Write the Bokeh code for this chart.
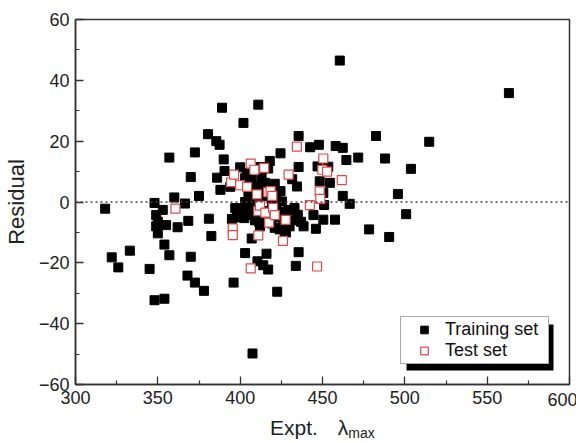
from bokeh.plotting import figure
from bokeh.layouts import column
from bokeh.models import (Range1d, Span, Legend, LegendItem, FixedTicker, Div,
                          LinearAxis)
from bokeh.embed import file_html
from bokeh.resources import INLINE

# Residuals of predicted vs. experimental absorption maxima
train_x = [318, 322, 326, 333, 345, 348, 354, 348, 349, 350, 349, 350, 353, 355, 354,
           357, 357, 360, 362, 366.5, 368.5, 370, 368, 370, 372.5, 372.5, 375, 378,
           380.5, 381, 382.5, 385.5, 387.5, 386, 388, 389, 390, 390.5, 394, 396, 397,
           395, 400, 402, 403, 404, 403, 402.5, 405, 405.5, 406, 407, 407.5, 407, 411,
           410.5, 411.5, 412, 412.6, 414, 415, 416, 417, 418, 418.7, 419.3, 420.5, 421,
           422.5, 424.5, 424.5, 425.4, 426.7, 427.8, 429.4, 431.6, 433.8, 434.5, 435.5,
           435.5, 435.5, 435, 437, 438.5, 442.5, 444.5, 446, 447.8, 448.3, 447, 450.5,
           451, 450.5, 453.5, 454.5, 457.6, 458, 460.5, 462.3, 462.3, 464.5, 466.5,
           471.7, 478.3, 482.5, 488, 490.5, 495.8, 500.8, 503.7, 514.8, 563.2,
           400, 401, 403, 404, 406, 408, 409, 410, 413, 414, 416, 417, 419, 420, 422,
           423, 424, 426, 428, 430, 432, 433, 409, 413, 417, 421, 398, 410, 415, 427,
           412, 422]
train_y = [-2.2, -18.2, -21.5, -16, -22, -32.3, -31.8, -0.3, -4.3, -6.5, -8, -10.3, -2.6,
           -7.6, -14, -17.5, 14.6, 1.5, -8.3, -0.5, -6.2, 8.2, -24.2, -18, -26.5, 16.3,
           2, -29.2, 22.3, -5.5, -11.2, 20, 18.8, 8, 4, 31, 14, 10.2, 5, -26.5, -2,
           -5.6, 11.4, 26, -16.8, 9.5, 7.8, -5.3, 2.3, -1, -4.3, -12, -49.8, 7.2, 32,
           -19.5, -6.5, 1.2, 11.5, -20.8, 6.3, -17, -22.2, 13.5, 4.5, -1, -4.3, -8.5,
           -29.5, 16, 3.6, 0.2, -3.2, -10, -2.6, 7.5, -21, 5.1, 21.7, 11.5, -16.5,
           -4.2, -6.5, -8, 18, -4.3, -8.8, 18.8, 6.8, 11.7, 3, -1, -5.8, 11.6, 6.3,
           -5.8, 18.4, 46.5, 17.8, 2, 13.8, -0.6, 14.6, -9, 21.7, 14.3, -11.5, 2.6, -4,
           10.9, 19.8, 35.8,
           -3, -5, 0, -2, 3, -2, -6, 1, -4, 4, -3, 2, -7, 1, -1, -5, -9, -7, -5, -8,
           -6, -2, 5, 8, 11, 6, -5, -3, -5, -9.5, -8, 2.5]

test_x = [360.7, 394.5, 396.3, 400, 404.2, 406.4, 408.6, 410.2, 411, 411, 412, 414.6,
          415.3, 417, 418.5, 417.6, 420, 421, 426, 427.6, 429.4, 406.4, 395.5, 395.5,
          434.4, 442.3, 446.7, 448.3, 448.7, 449.9, 450.5, 452.8, 461.7, 419.5]
test_y = [-2.2, 6.5, 9, 5.5, 5, 12.6, 10.6, 2.5, -3, -11, -1.2, 11.2, -3.5, 3.2, 3.6,
          -6.8, -1.9, -4.3, -12.8, -5.9, 9, -21.8, -8.7, -10.9, 18.2, -1, -21.2, 3.5,
          1, 10.6, 14.3, 10, 7.2, 2]

x_ticks = [300, 350, 400, 450, 500, 550, 600]
y_ticks = [-60, -40, -20, 0, 20, 40, 60]

FONT = "Liberation Sans"

# frame geometry (pixels) used to place decorations
FL, FT, FW, FH = 70, 19, 494, 365
FB = 30
X0, X1, Y0, Y1 = 300, 600, -60, 60


def px_x(px):
    return X0 + (px - FL) * (X1 - X0) / FW


def px_y(py):
    return Y1 - (py - FT) * (Y1 - Y0) / FH


p = figure(frame_width=FW, frame_height=FH,
           min_border_left=FL, min_border_right=576 - FL - FW,
           min_border_top=FT, min_border_bottom=FB,
           x_range=Range1d(X0, X1), y_range=Range1d(Y0, Y1),
           output_backend="svg", toolbar_location=None)

p.grid.visible = False
p.outline_line_color = "#333333"
p.outline_line_width = 1.5
p.background_fill_color = "white"
p.border_fill_color = "white"

for ax in (p.xaxis[0], p.yaxis[0]):
    ax.axis_line_color = "#333333"
    ax.axis_line_width = 1.5
    ax.major_tick_line_color = "#333333"
    ax.minor_tick_line_color = "#333333"
    ax.major_tick_line_width = 1.3
    ax.minor_tick_line_width = 1.2
    ax.major_tick_in = 8
    ax.major_tick_out = 0
    ax.minor_tick_in = 4
    ax.minor_tick_out = 0
    ax.major_label_text_font = FONT
    ax.major_label_text_font_size = "18px"
    ax.major_label_text_color = "#222222"

p.xaxis.ticker = FixedTicker(ticks=x_ticks,
                             minor_ticks=[t + 25 for t in x_ticks[:-1]])
p.yaxis.ticker = FixedTicker(ticks=y_ticks,
                             minor_ticks=[t + 10 for t in y_ticks[:-1]])
p.xaxis.major_label_overrides = {x_ticks[-1]: ""}
p.xaxis.major_label_standoff = 6
p.yaxis.major_label_standoff = 6

# the last x label is nudged left so it stays inside the canvas
nudge = (X1 - X0) * 7 / FW
p.extra_x_ranges = {"nudge": Range1d(X0 + nudge, X1 + nudge)}
last_ax = LinearAxis(x_range_name="nudge",
                     ticker=FixedTicker(ticks=[x_ticks[-1]], minor_ticks=[]),
                     axis_line_color=None, major_tick_line_color=None,
                     minor_tick_line_color=None, major_tick_in=0, major_tick_out=0,
                     major_label_standoff=-14, major_label_text_font=FONT,
                     major_label_text_font_size="18px",
                     major_label_text_color="#222222")
p.add_layout(last_ax, "below")

p.yaxis.axis_label = "Residual"
p.yaxis.axis_label_text_font = FONT
p.yaxis.axis_label_text_font_size = "22px"
p.yaxis.axis_label_text_font_style = "normal"
p.yaxis.axis_label_text_color = "#222222"
p.yaxis.axis_label_standoff = 7

# zero line
p.add_layout(Span(location=0, dimension="width", line_color="#444444",
                  line_dash="2 3", line_width=1.5))

# legend box geometry (pixels) and its drop shadow
LEG_X, LEG_Y = 325, 20          # offset of the box from the frame's bottom-left
LEG_W, LEG_H = 147, 46
SHADOW = 6
box_left = FL + LEG_X
box_bottom = FT + FH - LEG_Y
p.quad(left=[px_x(box_left + SHADOW)], right=[px_x(box_left + LEG_W + SHADOW)],
       top=[px_y(box_bottom - LEG_H + SHADOW)], bottom=[px_y(box_bottom + SHADOW)],
       fill_color="black", line_color=None)

r_train = p.scatter(train_x, train_y, marker="square", size=9,
                    fill_color="black", line_color="black")
r_test = p.scatter(test_x, test_y, marker="square", size=9,
                   fill_color="white", line_color="#e04848", line_width=1.2)

legend = Legend(items=[LegendItem(label="Training set", renderers=[r_train]),
                       LegendItem(label="Test set", renderers=[r_test])],
                location=(LEG_X, LEG_Y), margin=0, padding=2,
                glyph_width=42, glyph_height=19, label_height=19,
                label_width=101, label_standoff=0, spacing=0,
                label_text_font=FONT, label_text_font_size="18px",
                label_text_color="#111111",
                border_line_color="#555555", border_line_width=1,
                background_fill_color="white", background_fill_alpha=1)
p.add_layout(legend)

# x-axis title with a subscript
xtitle = Div(
    text=('<div style="position:relative; left:270px; top:3px; white-space:nowrap;'
          ' font-family:\'Liberation Sans\'; font-size:21px; color:#222222;'
          ' line-height:21px">Expt.<span style="margin-left:20px">λ</span>'
          '<span style="font-size:14px; position:relative; top:3px">max</span></div>'),
    width=576, height=443 - FT - FH - FB, margin=0)

layout = column(p, xtitle, spacing=0)

open("out.html", "w").write(file_html(layout, INLINE))
